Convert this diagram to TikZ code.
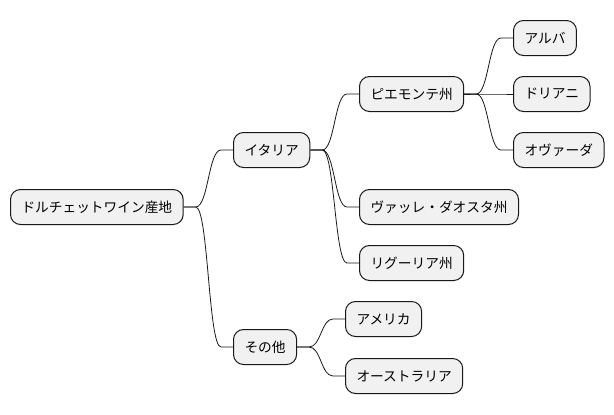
\documentclass[tikz,border=0pt]{standalone}
\usepackage{fontspec}
\setmainfont{Noto Sans CJK JP}
\usetikzlibrary{calc}
\definecolor{nodefill}{HTML}{F1F1F1}
\definecolor{nodeline}{HTML}{181818}
\newcommand\mmlink[2]{%
  \path (#1.east) ++(12,0) coordinate (lA);
  \path (#2.west) ++(-12,0) coordinate (lB);
  \path ($(lA)!0.5!(lB)$) coordinate (lM);
  \draw[conn] (#1.east) -- (lA) .. controls (lM |- lA) and (lM |- lB) .. (lB) -- (#2.west);
}
\begin{document}
\begin{tikzpicture}[x=1pt,y=-1pt,
  mm/.style={draw=nodeline, fill=nodefill, rounded corners=10pt, line width=1pt,
    minimum height=35pt, inner xsep=11pt, inner ysep=0pt,
    font=\fontsize{13.7}{16}\selectfont, anchor=west},
  conn/.style={line width=0.8pt, draw=nodeline}]
\useasboundingbox (0,0) rectangle (614,415);
\node[mm] (root) at (10,207) {ドルチェットワイン産地};
\node[mm] (ita) at (233,150) {イタリア};
\node[mm] (oth) at (233,347) {その他};
\node[mm] (pie) at (359,94) {ピエモンテ州};
\node[mm] (alb) at (513,38) {アルバ};
\node[mm] (dor) at (513,94) {ドリアニ};
\node[mm] (ova) at (513,150) {オヴァーダ};
\node[mm] (val) at (359,207) {ヴァッレ・ダオスタ州};
\node[mm] (lig) at (359,263) {リグーリア州};
\node[mm] (ame) at (345,319) {アメリカ};
\node[mm] (aus) at (345,376) {オーストラリア};
\mmlink{root}{ita}
\mmlink{root}{oth}
\mmlink{ita}{pie}
\mmlink{ita}{val}
\mmlink{ita}{lig}
\mmlink{pie}{alb}
\mmlink{pie}{dor}
\mmlink{pie}{ova}
\mmlink{oth}{ame}
\mmlink{oth}{aus}
\end{tikzpicture}
\end{document}
